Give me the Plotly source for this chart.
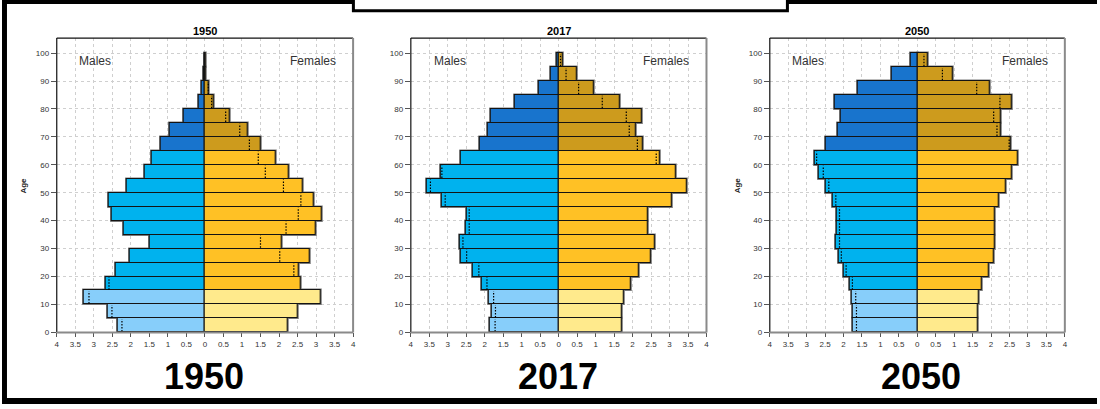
import plotly.graph_objects as go

# ---------------- data ----------------
age_start = [0, 5, 10, 15, 20, 25, 30, 35, 40, 45, 50, 55, 60, 65, 70, 75, 80, 85, 90, 95]
years = ["1950", "2017", "2050"]

males_1950 = [2.35, 2.62, 3.26, 2.68, 2.40, 2.02, 1.50, 2.19, 2.52, 2.59, 2.12, 1.63, 1.44, 1.20, 0.94, 0.56, 0.18, 0.09, 0.035, 0.01]
females_1950 = [2.24, 2.51, 3.13, 2.59, 2.53, 2.82, 2.08, 3.00, 3.16, 2.94, 2.63, 2.27, 1.92, 1.52, 1.16, 0.68, 0.25, 0.10, 0.035, 0.01]

males_2017 = [1.85, 1.80, 1.88, 2.08, 2.33, 2.64, 2.68, 2.50, 2.49, 3.15, 3.57, 3.20, 2.64, 2.13, 1.91, 1.83, 1.18, 0.54, 0.20, 0.05]
females_2017 = [1.72, 1.71, 1.76, 1.94, 2.16, 2.49, 2.59, 2.42, 2.42, 3.07, 3.47, 3.16, 2.75, 2.27, 2.10, 2.24, 1.66, 0.94, 0.48, 0.11]

males_2050 = [1.76, 1.76, 1.77, 1.84, 2.00, 2.14, 2.20, 2.18, 2.18, 2.30, 2.49, 2.66, 2.77, 2.49, 2.16, 2.07, 2.24, 1.61, 0.68, 0.18]
females_2050 = [1.65, 1.65, 1.67, 1.76, 1.93, 2.06, 2.11, 2.11, 2.11, 2.21, 2.40, 2.55, 2.73, 2.53, 2.27, 2.27, 2.57, 1.97, 0.97, 0.28]

x_tickvals = [-4, -3.5, -3, -2.5, -2, -1.5, -1, -0.5, 0, 0.5, 1, 1.5, 2, 2.5, 3, 3.5, 4]
x_ticktext = ["4", "3.5", "3", "2.5", "2", "1.5", "1", "0.5", "0", "0.5", "1", "1.5", "2", "2.5", "3", "3.5", "4"]
y_tickvals = [0, 10, 20, 30, 40, 50, 60, 70, 80, 90, 100]

male_colors = {"young": "#87CEFA", "adult": "#00B2EE", "old": "#1874CD"}
female_colors = {"young": "#FFEA8C", "adult": "#FFC125", "old": "#CD9B1D"}

datasets = [(males_1950, females_1950), (males_2017, females_2017), (males_2050, females_2050)]

# ---------------- layout geometry (pixels) ----------------
W, H = 1100, 409
panel_px = [(55.0, 352.7), (410.7, 707.7), (771.3, 1067.7)]
plot_top_px, plot_bot_px = 38.5, 336.5
FONT = "Liberation Sans, Arial"


def px_x(p):
    return p / W


def px_y(p):
    return 1 - p / H


def group(a):
    if a < 15:
        return "young"
    if a < 65:
        return "adult"
    return "old"


fig = go.Figure()
shapes = []
annotations = []

for k, (males, females) in enumerate(datasets):
    xa = "x" if k == 0 else f"x{k+1}"
    ya = "y" if k == 0 else f"y{k+1}"
    mids = [a + 2.5 for a in age_start]
    mcol = [male_colors[group(a)] for a in age_start]
    fcol = [female_colors[group(a)] for a in age_start]
    # shadow outline bars
    for vals in ([-v for v in males], females):
        fig.add_trace(go.Bar(
            x=vals, y=mids, width=5, orientation="h",
            marker=dict(color="rgba(0,0,0,0)", line=dict(color="#7a7a7a", width=2.6)),
            xaxis=xa, yaxis=ya, showlegend=False, hoverinfo="skip"))
    fig.add_trace(go.Bar(
        x=[-v for v in males], y=mids, width=5, orientation="h",
        marker=dict(color=mcol, line=dict(color="#141414", width=1.1)),
        xaxis=xa, yaxis=ya, showlegend=False, name="Males"))
    fig.add_trace(go.Bar(
        x=females, y=mids, width=5, orientation="h",
        marker=dict(color=fcol, line=dict(color="#141414", width=1.1)),
        xaxis=xa, yaxis=ya, showlegend=False, name="Females"))
    # dotted excess markers: smaller sex's value mirrored onto the larger side
    dx, dy = [], []
    for a, m, f in zip(age_start, males, females):
        if abs(m - f) < 0.005:
            continue
        xv = -f if m > f else m
        dx += [xv, xv, None]
        dy += [a + 0.3, a + 4.7, None]
    fig.add_trace(go.Scatter(
        x=dx, y=dy, mode="lines", line=dict(color="#000000", width=1.2, dash="1.5px,1.5px"),
        xaxis=xa, yaxis=ya, showlegend=False, hoverinfo="skip"))

    x0p, x1p = panel_px[k]
    ax_common = dict(
        domain=[px_x(x0p), px_x(x1p)], range=[-4, 4],
        tickvals=x_tickvals, ticktext=x_ticktext, ticks="outside", ticklen=4,
        tickcolor="#555", tickfont=dict(size=8, color="#333", family=FONT),
        showgrid=True, gridcolor="#cfcfcf", griddash="dot", gridwidth=1,
        zeroline=False, showline=False, fixedrange=True,
        anchor=ya)
    yax_common = dict(
        domain=[px_y(plot_bot_px), px_y(plot_top_px)], range=[0, 105.4],
        tickvals=y_tickvals, ticks="outside", ticklen=5, tickcolor="#555",
        tickfont=dict(size=8, color="#333", family=FONT),
        showgrid=True, gridcolor="#cfcfcf", griddash="dot", gridwidth=1,
        zeroline=False, showline=False, fixedrange=True, anchor=xa)
    fig.update_layout(**{("xaxis" if k == 0 else f"xaxis{k+1}"): ax_common,
                         ("yaxis" if k == 0 else f"yaxis{k+1}"): yax_common})

    xd, yd = f"{xa} domain", f"{ya} domain"
    # frame: black left/top, grey right/bottom
    shapes += [
        dict(type="line", xref=xd, yref=yd, x0=0, x1=0, y0=0, y1=1, line=dict(color="#111", width=1.2)),
        dict(type="line", xref=xd, yref=yd, x0=0, x1=1, y0=1, y1=1, line=dict(color="#111", width=1.2)),
        dict(type="line", xref=xd, yref=yd, x0=1, x1=1, y0=0, y1=1, line=dict(color="#8a8a8a", width=2)),
        dict(type="line", xref=xd, yref=yd, x0=0, x1=1, y0=0, y1=0, line=dict(color="#8a8a8a", width=2)),
    ]
    cx = (x0p + x1p) / 2
    annotations += [
        dict(text=f"<b>{years[k]}</b>", x=px_x(cx), y=px_y(31), xref="paper", yref="paper",
             xanchor="center", yanchor="middle",
             showarrow=False, font=dict(size=11, color="#000", family=FONT)),
        dict(text="Males", x=0.07, y=97.2, xref=xd, yref=ya, xanchor="left", yanchor="middle",
             showarrow=False, font=dict(size=12, color="#333", family=FONT)),
        dict(text="Females", x=0.948, y=97.2, xref=xd, yref=ya, xanchor="right", yanchor="middle",
             showarrow=False, font=dict(size=12, color="#333", family=FONT)),
        dict(text=f"<b>{years[k]}</b>", x=px_x([203, 558.5, 923][k]), y=px_y(381.5), xref="paper", yref="paper",
             xanchor="center", yanchor="middle",
             showarrow=False, font=dict(size=36, color="#000", family=FONT)),
    ]
    if k != 1:
        annotations.append(dict(text="<b>Age</b>", textangle=-90, x=px_x([22, 0, 739][k]),
                                y=px_y(188), xref="paper", yref="paper", showarrow=False,
                                xanchor="center", yanchor="middle",
                                font=dict(size=8, color="#222", family=FONT)))

# outer frame pieces
shapes += [
    dict(type="rect", xref="paper", yref="paper", x0=0, x1=1, y0=px_y(4), y1=1,
         fillcolor="#000", line=dict(width=0), layer="above"),
    dict(type="rect", xref="paper", yref="paper", x0=0, x1=px_x(5), y0=0, y1=1,
         fillcolor="#000", line=dict(width=0), layer="above"),
    dict(type="rect", xref="paper", yref="paper", x0=0, x1=1, y0=0, y1=px_y(403),
         fillcolor="#000", line=dict(width=0), layer="above"),
    dict(type="rect", xref="paper", yref="paper", x0=px_x(353), x1=px_x(789), y0=px_y(11), y1=px_y(-6),
         fillcolor="#fff", line=dict(color="#000", width=3), layer="above"),
]

fig.update_layout(
    width=W, height=H, margin=dict(l=0, r=0, t=0, b=0),
    paper_bgcolor="#fff", plot_bgcolor="#fff",
    barmode="overlay", bargap=0, showlegend=False,
    shapes=shapes, annotations=annotations,
    font=dict(family=FONT),
)

fig.write_html("out.html", config={"displayModeBar": False},
               post_script="document.body.style.margin='0';document.body.style.padding='0';document.body.style.overflow='hidden';")
